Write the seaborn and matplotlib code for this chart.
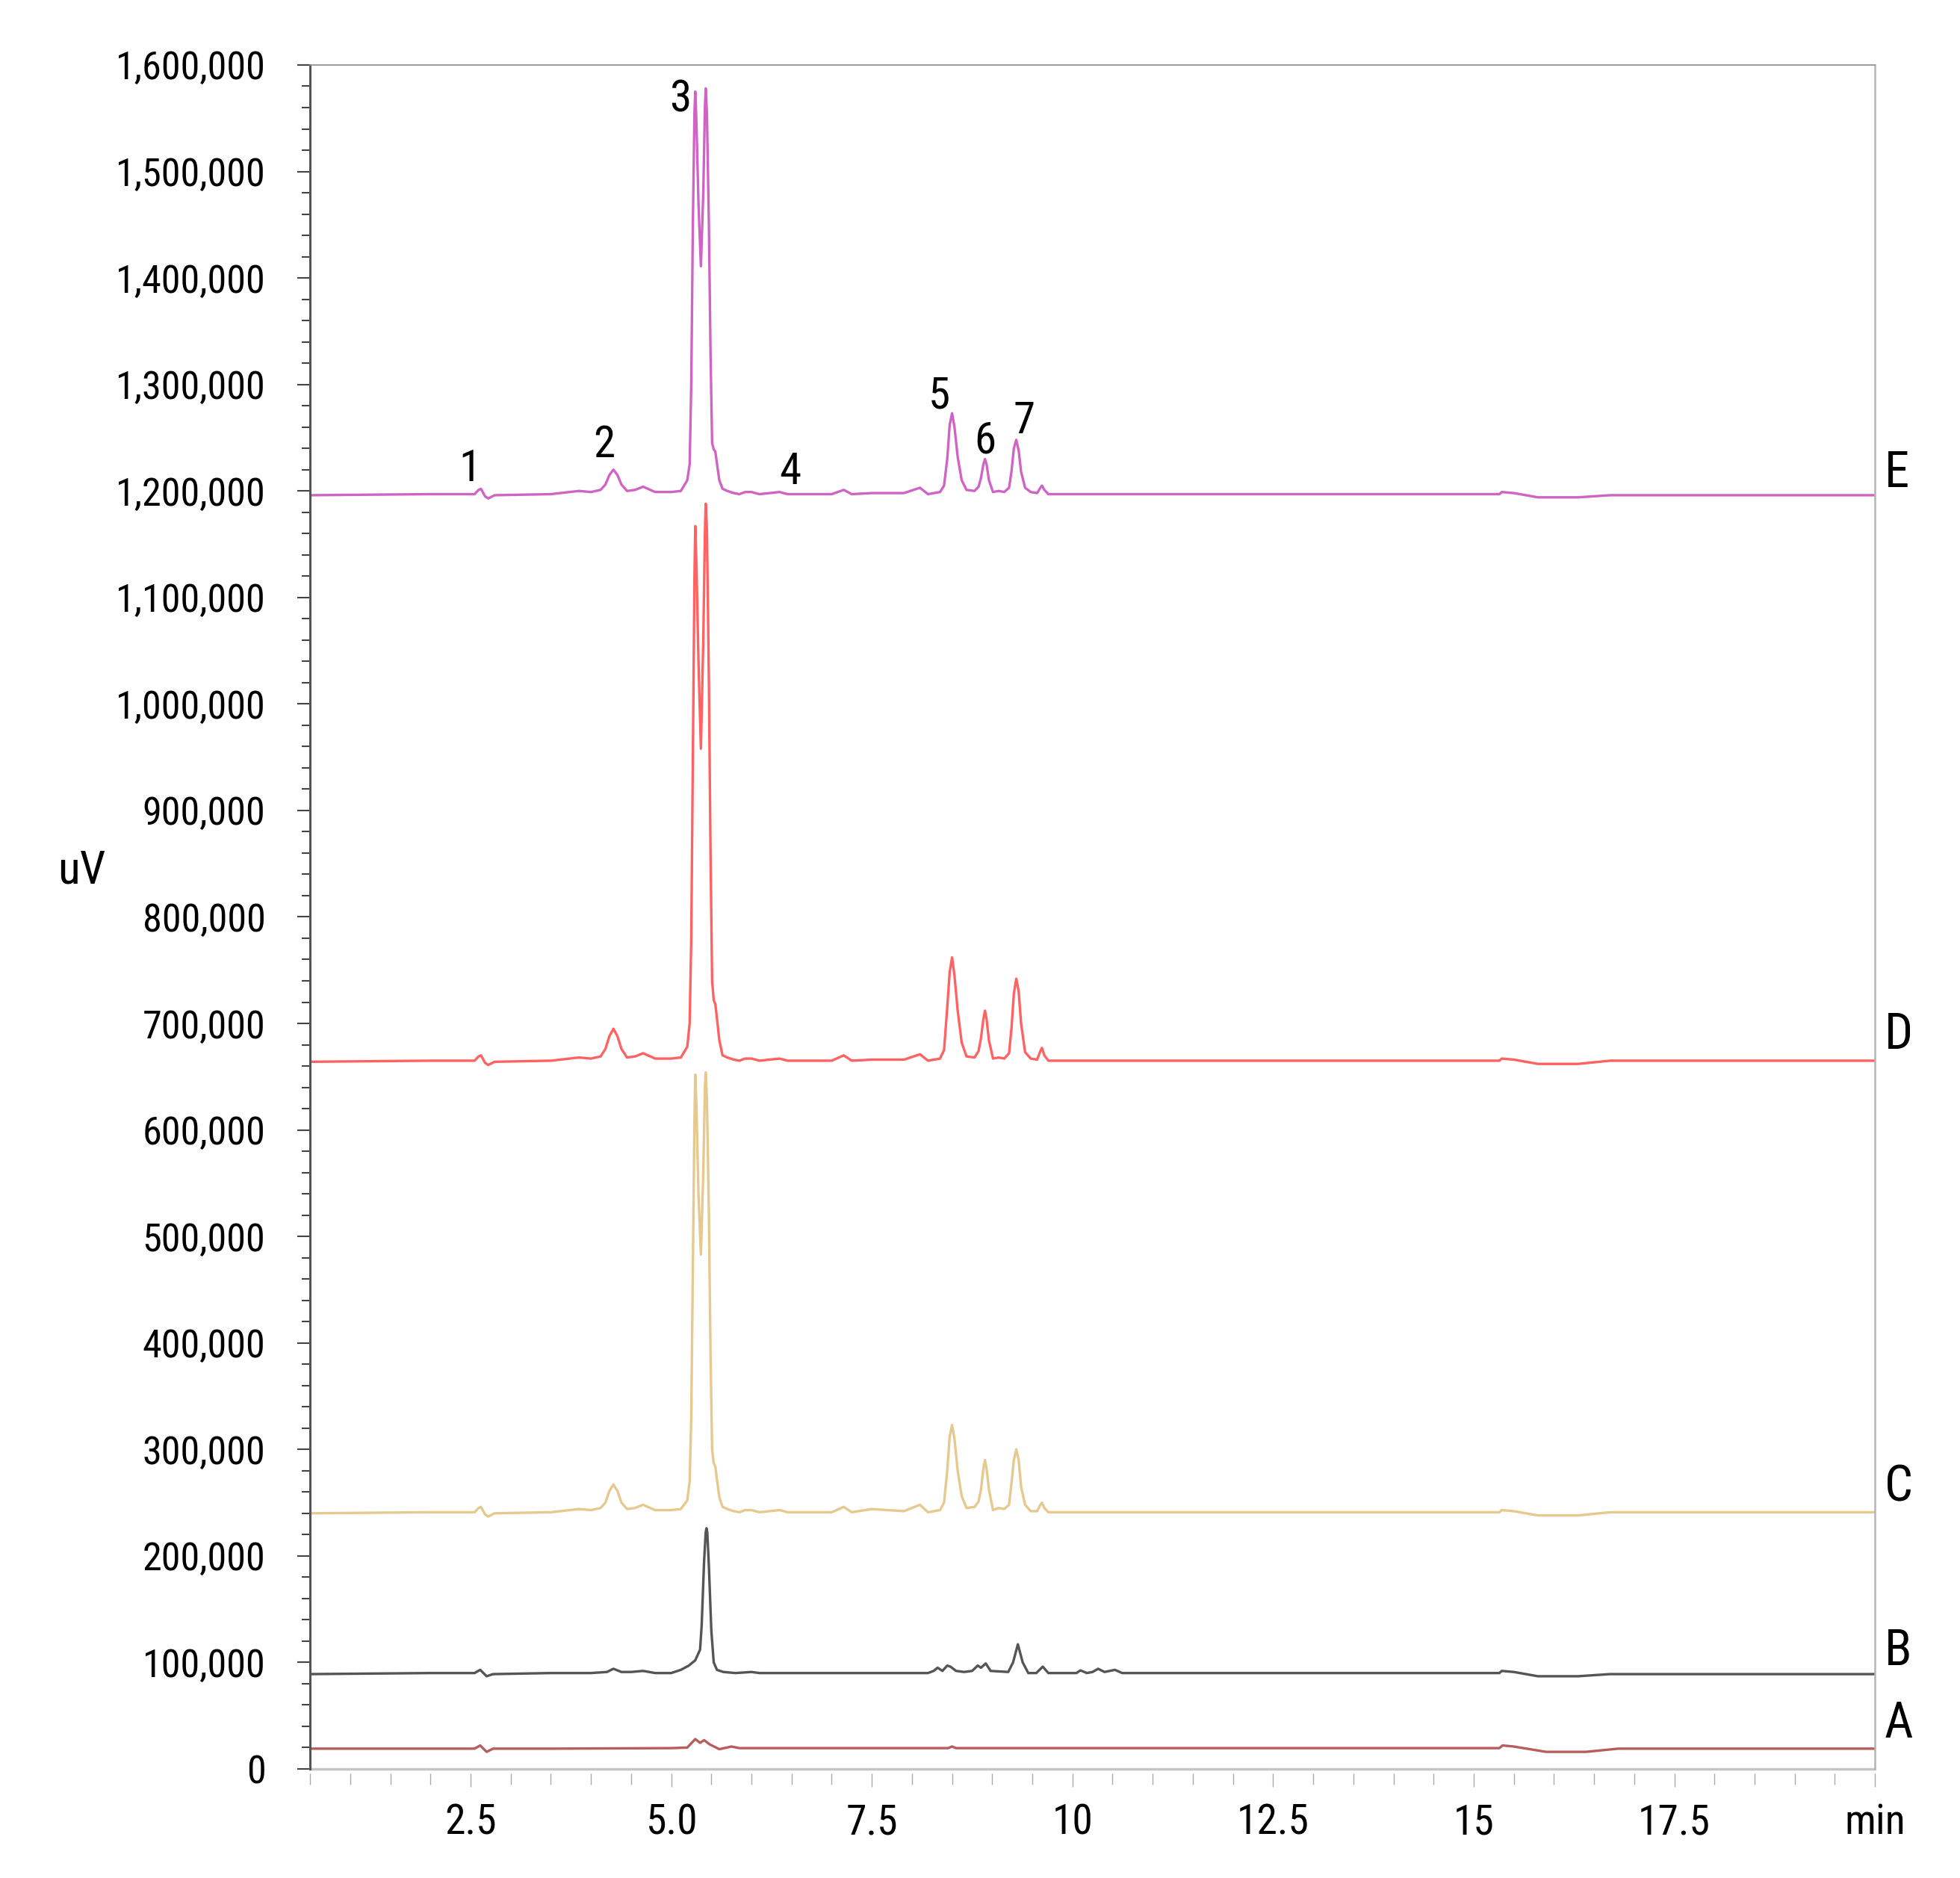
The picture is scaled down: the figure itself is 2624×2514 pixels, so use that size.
import matplotlib
matplotlib.use("Agg")
import matplotlib.pyplot as plt
from matplotlib import font_manager as fm
from matplotlib.font_manager import FontProperties
from matplotlib.textpath import TextPath
from matplotlib.ticker import MultipleLocator, FuncFormatter
import numpy as np
import pandas as pd
import seaborn as sns

# Chromatogram traces (time in min, signal in thousands of uV)
t_cde = [0.5, 2.0, 2.55, 2.60, 2.63, 2.68, 2.72, 2.80, 3.5, 3.85,
         4.0, 4.12, 4.18, 4.23, 4.28, 4.33, 4.38, 4.45, 4.55, 4.65,
         4.8, 5.0, 5.12, 5.20, 5.23, 5.25, 5.27, 5.29, 5.30, 5.315,
         5.34, 5.37, 5.40, 5.42, 5.43, 5.445, 5.47, 5.49, 5.51, 5.53,
         5.55, 5.57, 5.60, 5.64, 5.70, 5.78, 5.85, 5.92, 6.0, 6.1,
         6.35, 6.45, 7.0, 7.15, 7.25, 7.5, 7.9, 8.1, 8.2, 8.35,
         8.40, 8.44, 8.47, 8.50, 8.53, 8.57, 8.62, 8.68, 8.78, 8.83,
         8.86, 8.89, 8.91, 8.93, 8.96, 9.01, 9.08, 9.15, 9.21, 9.24,
         9.27, 9.30, 9.33, 9.36, 9.41, 9.48, 9.56, 9.60, 9.62, 9.65,
         9.70, 9.8, 11.0, 15.32, 15.35, 15.5, 15.8, 16.3, 16.7, 20.0]

e_uv = [1196, 1197, 1197, 1201, 1202, 1195, 1193, 1196, 1197, 1200,
        1199, 1201, 1206, 1215, 1220, 1215, 1206, 1200, 1201, 1204,
        1199, 1199, 1200, 1210, 1225, 1300, 1450, 1555, 1575, 1545,
        1470, 1411, 1480, 1560, 1578, 1555, 1450, 1330, 1245, 1239,
        1237, 1226, 1210, 1202, 1200, 1198, 1197, 1199, 1199, 1197,
        1199, 1197, 1197, 1201, 1197, 1198, 1198, 1203, 1197, 1199,
        1205, 1230, 1262, 1273, 1260, 1232, 1210, 1201, 1200, 1204,
        1212, 1225, 1230, 1225, 1210, 1199, 1200, 1199, 1203, 1218,
        1240, 1248, 1238, 1218, 1203, 1199, 1198, 1203, 1205, 1201,
        1197, 1197, 1197, 1197, 1199, 1198, 1194, 1194, 1196, 1196]

d_uv = [664, 665, 665, 669, 670, 663, 661, 664, 665, 668,
        667, 669, 676, 688, 695, 688, 676, 668, 669, 672,
        667, 667, 668, 678, 700, 780, 950, 1120, 1167, 1130,
        1040, 958, 1060, 1160, 1188, 1165, 1020, 860, 740, 722,
        718, 705, 684, 670, 668, 666, 665, 667, 667, 665,
        667, 665, 665, 670, 665, 666, 666, 671, 665, 667,
        675, 715, 748, 762, 745, 712, 682, 669, 668, 674,
        686, 704, 712, 704, 684, 667, 668, 667, 672, 695,
        728, 742, 730, 700, 673, 667, 666, 674, 677, 670,
        665, 665, 665, 665, 667, 666, 662, 662, 665, 665]

c_uv = [240, 241, 241, 245, 246, 239, 237, 240, 241, 244,
        243, 245, 250, 261, 267, 261, 250, 244, 245, 248,
        243, 243, 244, 252, 270, 330, 470, 610, 652, 620,
        540, 483, 560, 640, 654, 630, 520, 390, 300, 287,
        284, 272, 255, 246, 244, 242, 241, 243, 243, 241,
        243, 241, 241, 246, 241, 244, 242, 248, 241, 243,
        250, 280, 312, 323, 310, 280, 256, 245, 246, 251,
        262, 282, 290, 282, 262, 243, 245, 244, 248, 268,
        290, 300, 290, 265, 248, 242, 242, 248, 250, 245,
        241, 241, 241, 241, 243, 242, 238, 238, 241, 241]

t_b = [0.5, 2.0, 2.55, 2.62, 2.70, 2.78, 3.5, 4.0, 4.2, 4.28,
       4.38, 4.5, 4.65, 4.8, 5.0, 5.12, 5.22, 5.30, 5.36, 5.38,
       5.41, 5.43, 5.44, 5.45, 5.47, 5.50, 5.53, 5.57, 5.65, 5.8,
       6.0, 6.1, 6.3, 7.0, 7.5, 8.0, 8.2, 8.27, 8.32, 8.38,
       8.44, 8.48, 8.55, 8.65, 8.75, 8.82, 8.86, 8.92, 8.98, 9.2,
       9.26, 9.32, 9.38, 9.45, 9.55, 9.63, 9.7, 9.9, 10.05, 10.1,
       10.18, 10.25, 10.32, 10.4, 10.53, 10.62, 10.8, 12.0, 15.32, 15.35,
       15.5, 15.8, 16.3, 16.7, 20.0]
b_uv = [89, 90, 90, 93, 87, 89, 90, 90, 91, 94,
        91, 91, 92, 90, 90, 93, 97, 102, 112, 135,
        195, 222, 226, 222, 190, 130, 100, 93, 91, 90,
        91, 90, 90, 90, 90, 90, 90, 92, 95, 92,
        97, 96, 92, 91, 92, 97, 95, 99, 92, 91,
        100, 117, 100, 90, 90, 96, 90, 90, 90, 92.5,
        90, 91, 94, 91, 93, 90, 90, 90, 90, 92,
        91, 87, 87, 89, 89]

t_a = [0.5, 2.0, 2.55, 2.62, 2.70, 2.78, 3.5, 5.0, 5.2, 5.30,
       5.36, 5.41, 5.48, 5.6, 5.75, 5.85, 7.0, 8.45, 8.5, 8.55,
       10.0, 15.32, 15.36, 15.5, 15.9, 16.4, 16.8, 20.0]
a_uv = [19, 19, 19, 22, 16, 19, 19, 19.5, 20, 28,
        24.5, 27, 23, 18.5, 21, 19.5, 19.5, 19.5, 21, 19.5,
        19.5, 19.5, 22, 21, 16, 16, 19, 19]

samples = ["E", "D", "C", "B", "A"]
colors = {"E": "#d064c4", "D": "#ff6262", "C": "#e6c98e",
          "B": "#555555", "A": "#b85c5c"}

peak_names = ["1", "2", "3", "4", "5", "6", "7"]
peak_label_x = [2.49, 4.16, 5.11, 6.48, 8.34, 8.91, 9.40]
peak_label_y = [1221e3, 1243e3, 1568e3, 1218e3, 1289e3, 1247e3, 1266e3]
side_label_y = [1216e3, 689e3, 264e3, 110e3, 42e3]

xtick_pos = [2.5, 5.0, 7.5, 10, 12.5, 15, 17.5, 20]
xtick_labels = ["2.5", "5.0", "7.5", "10", "12.5", "15", "17.5", "min"]

traces = {"E": (t_cde, e_uv), "D": (t_cde, d_uv), "C": (t_cde, c_uv),
          "B": (t_b, b_uv), "A": (t_a, a_uv)}
frames = []
for s in samples:
    t, v = traces[s]
    assert len(t) == len(v), s
    frames.append(pd.DataFrame({"time": t, "uV": np.array(v) * 1000.0, "sample": s}))
df = pd.concat(frames, ignore_index=True)


# The original lettering is a narrow sans; use one if the machine has it.
def pick_font():
    wanted = ["Liberation Sans Narrow", "Roboto Condensed", "Open Sans Condensed",
              "Noto Sans", "Open Sans", "Roboto", "DejaVu Sans"]
    narrow = []
    for f in fm.fontManager.ttflist:
        if f.style != "normal" or f.weight not in (400, "normal", "regular"):
            continue
        if "Narrow" in f.name or "Condensed" in f.name or \
                str(f.stretch) in ("condensed", "semi-condensed"):
            narrow.append(f)
    for name in wanted:
        for f in narrow:
            if f.name == name:
                return f.fname
    return fm.findfont(FontProperties(family="Liberation Sans"))


font_file = pick_font()


def fitted(text, width_px, height_px, ink="0", cap=1.0):
    # font size (pt) whose ink box best matches the reference lettering
    w = TextPath((0, 0), text, size=100, prop=FontProperties(fname=font_file)).get_extents().width
    h = TextPath((0, 0), ink, size=100, prop=FontProperties(fname=font_file)).get_extents().height
    s_w = width_px / (w / 100 * 100 / 72)
    s_h = height_px / (h / 100 * 100 / 72)
    size = min(np.sqrt(s_w * s_h), cap * s_w)
    return FontProperties(fname=font_file, size=size)


fp_ytick = fitted("1,600,000", 194, 40)
fp_xtick = fitted("12.5", 86, 50, ink="12", cap=1.05)
fp_peak = fitted("3", 22, 44, ink="3", cap=1.1)
fp_side = fitted("E", 29, 42, ink="E", cap=1.05)
fp_ylab = fitted("uV", 62, 42, ink="V")

sns.set_style("white")
plt.rcParams["font.family"] = ["Liberation Sans", "DejaVu Sans"]
plt.rcParams["text.color"] = "black"

fig = plt.figure(figsize=(26.24, 25.14), dpi=100)
ax = fig.add_axes([0.1582, 0.0581, 0.7984, 0.9073])

sns.lineplot(data=df, x="time", y="uV", hue="sample", palette=colors,
             estimator=None, sort=False, linewidth=2.4, legend=False, ax=ax)

ax.set_xlim(0.5, 20)
ax.set_ylim(0, 1.6e6)

# y axis
ax.yaxis.set_major_locator(MultipleLocator(100000))
ax.yaxis.set_minor_locator(MultipleLocator(20000))
ax.yaxis.set_major_formatter(FuncFormatter(lambda v, p: "{:,}".format(int(round(v)))))
ax.tick_params(axis="y", which="both", left=True, direction="out",
               color="#444444", width=1.5, labelcolor="black", pad=31)
ax.tick_params(axis="y", which="major", length=12)
ax.tick_params(axis="y", which="minor", length=8)

# x axis
ax.set_xticks(xtick_pos)
ax.set_xticklabels(xtick_labels)
ax.xaxis.set_minor_locator(MultipleLocator(0.5))
ax.tick_params(axis="x", which="both", bottom=True, direction="out",
               color="#aaaaaa", width=1.0, labelcolor="black", pad=15)
ax.tick_params(axis="x", which="major", length=13)
ax.tick_params(axis="x", which="minor", length=11)

ax.set_xlabel("")
ax.set_ylabel("uV", rotation=0, fontproperties=fp_ylab, ha="center", va="center",
              color="black")
ax.yaxis.set_label_coords(-0.146, 0.527)

for side in ["left", "top", "right", "bottom"]:
    ax.spines[side].set_visible(True)
ax.spines["left"].set_color("#555555")
ax.spines["left"].set_linewidth(2.2)
ax.spines["top"].set_color("#8a8a8a")
ax.spines["top"].set_linewidth(1.2)
ax.spines["right"].set_color("#b4b4b4")
ax.spines["right"].set_linewidth(1.8)
ax.spines["bottom"].set_position(("outward", 4.5))
ax.spines["bottom"].set_visible(False)
ax.axhline(0, color="#c4c4c4", linewidth=2.5, clip_on=False, zorder=1)

for name, x, y in zip(peak_names, peak_label_x, peak_label_y):
    ax.text(x, y, name, fontproperties=fp_peak, ha="center", va="center")

for s, y in zip(samples, side_label_y):
    ax.text(1.006, y, s, transform=ax.get_yaxis_transform(), fontproperties=fp_side,
            ha="left", va="center", clip_on=False)

fig.canvas.draw()
for lab in ax.get_yticklabels():
    lab.set_fontproperties(fp_ytick)
for lab in ax.get_xticklabels():
    lab.set_fontproperties(fp_xtick)

fig.savefig("out.png", dpi=100, facecolor="white")
